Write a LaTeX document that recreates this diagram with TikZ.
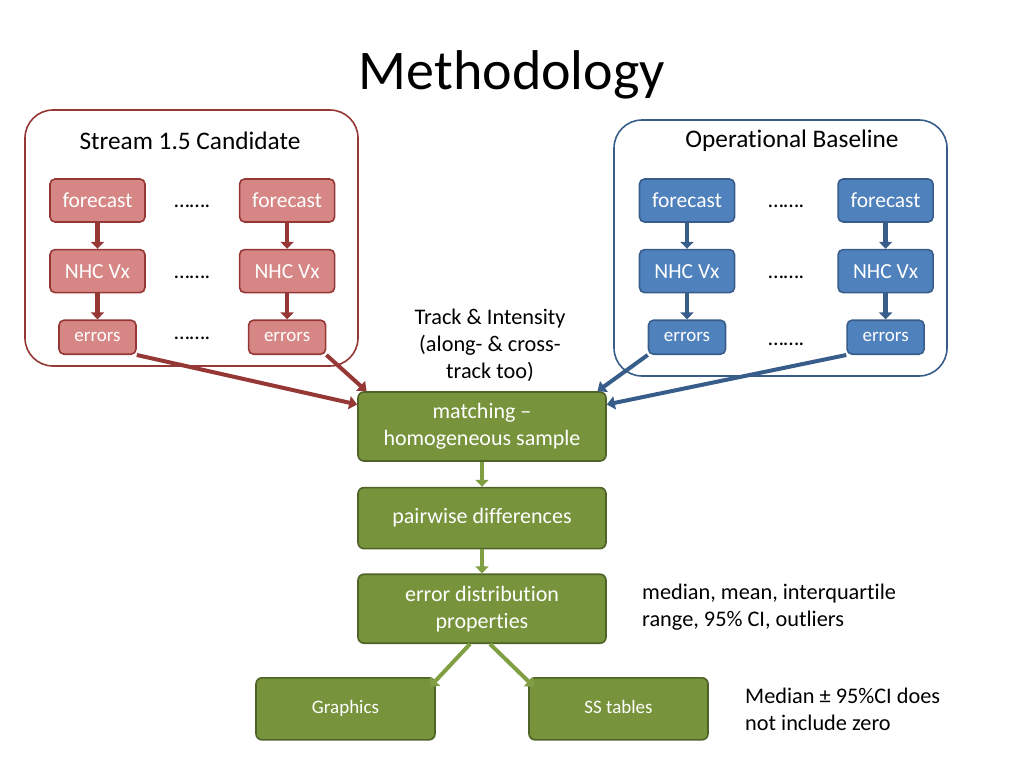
\documentclass[tikz,border=0pt]{standalone}
\usepackage{fontspec}
\setmainfont{Carlito}[Ligatures=NoCommon]
\usepackage{tikz}
\usetikzlibrary{shapes, arrows, arrows.meta, positioning, calc}
\definecolor{candline}{RGB}{149,55,53}
\definecolor{candfill}{RGB}{214,134,132}
\definecolor{opline}{RGB}{56,93,138}
\definecolor{opfill}{RGB}{79,129,189}
\definecolor{greenline}{RGB}{79,98,40}
\definecolor{greenfill}{RGB}{119,147,60}
\definecolor{greenarr}{RGB}{128,158,66}
\tikzstyle{group} = [rectangle, rounded corners=28pt, line width=1.6pt, minimum width=333pt, minimum height=256pt]
\tikzstyle{runbox} = [rectangle, rounded corners=5pt, line width=1.6pt, text=white, minimum width=95pt, minimum height=43pt, inner sep=0pt, font=\fontsize{21.5}{24}\selectfont]
\tikzstyle{errbox} = [runbox, minimum width=77pt, minimum height=34pt, font=\fontsize{19}{22}\selectfont]
\tikzstyle{cand} = [draw=candline, fill=candfill]
\tikzstyle{op} = [draw=opline, fill=opfill]
\tikzstyle{proc} = [rectangle, rounded corners=6pt, line width=1.6pt, draw=greenline, fill=greenfill, text=white, minimum width=248pt, align=center, inner sep=0pt, font=\fontsize{22}{27}\selectfont]
\tikzstyle{outbox} = [proc, minimum width=179pt, minimum height=62pt, text height=13pt, text depth=4pt, font=\fontsize{19}{22}\selectfont]
\tikzstyle{dots} = [anchor=base, inner sep=0pt, font=\fontsize{22}{24}\selectfont]
\tikzstyle{note} = [align=left, anchor=west, inner sep=0pt, font=\fontsize{22.3}{27}\selectfont]
\tikzstyle{candarrow} = [line width=4pt, draw=candline, -{Triangle[length=8pt,width=13pt]}]
\tikzstyle{oparrow} = [line width=4pt, draw=opline, -{Triangle[length=8pt,width=13pt]}]
\tikzstyle{greenarrow} = [line width=4pt, draw=greenarr, -{Triangle[length=8pt,width=13pt]}]
\tikzstyle{short} = [line width=4.5pt, -{Triangle[length=7pt,width=13pt]}]

\begin{document}
\begin{tikzpicture}[x=1pt, y=1pt]
        \useasboundingbox (0,0) rectangle (1024,-768);
        % Title
        \node (title) at (512,-75) {\fontsize{56}{60}\selectfont Methodology};

        % Stream 1.5 Candidate
        \node (candgroup) [group, draw=candline] at (191.5,-238) {};
        \node (candtitle) at (190,-141) {\fontsize{25.3}{28}\selectfont Stream 1.5 Candidate};
        \node (cfc1) [runbox, cand] at (97.5,-200.5) {forecast};
        \node (cnhc1) [runbox, cand, below=26pt of cfc1] {NHC Vx};
        \node (cerr1) [errbox, cand, below=26pt of cnhc1] {errors};
        \node (cfc2) [runbox, cand, right=93pt of cfc1] {forecast};
        \node (cnhc2) [runbox, cand, below=26pt of cfc2] {NHC Vx};
        \node (cerr2) [errbox, cand, below=26pt of cnhc2] {errors};
        \node (cdots1) [dots] at ($(cfc1.base)!0.5!(cfc2.base)$) {…….};
        \node (cdots2) [dots] at ($(cnhc1.base)!0.5!(cnhc2.base)$) {…….};
        \node (cdots3) [dots, yshift=2pt] at ($(cerr1.base)!0.5!(cerr2.base)$) {…….};

        % Operational Baseline
        \node (opgroup) [group, draw=opline] at (780.5,-248) {};
        \node (optitle) at (792,-141) {\fontsize{25.3}{28}\selectfont Operational Baseline};
        \node (ofc1) [runbox, op] at (687,-200.5) {forecast};
        \node (onhc1) [runbox, op, below=26pt of ofc1] {NHC Vx};
        \node (oerr1) [errbox, op, below=26pt of onhc1] {errors};
        \node (ofc2) [runbox, op, right=102pt of ofc1] {forecast};
        \node (onhc2) [runbox, op, below=26pt of ofc2] {NHC Vx};
        \node (oerr2) [errbox, op, below=26pt of onhc2] {errors};
        \node (odots1) [dots] at ($(ofc1.base)!0.5!(ofc2.base)$) {…….};
        \node (odots2) [dots] at ($(onhc1.base)!0.5!(onhc2.base)$) {…….};
        \node (odots3) [dots, yshift=-4pt] at ($(oerr1.base)!0.5!(oerr2.base)$) {…….};

        % Processing chain
        \node (track) [align=center, font=\fontsize{22.3}{27}\selectfont] at (490,-345) {Track \& Intensity\\(along- \& cross-\\track too)};
        \node (match) [proc, minimum height=69pt] at (482,-426.5) {matching –\\homogeneous sample};
        \node (pair) [proc, minimum height=61pt, below=25pt of match] {pairwise differences};
        \node (edist) [proc, minimum height=69pt, below=24pt of pair] {error distribution\\properties};
        \node (graph) [outbox, below=33pt of edist, xshift=-136.5pt] {Graphics};
        \node (sstab) [outbox, below=33pt of edist, xshift=136.5pt] {SS tables};
        \node (stats) [note] at (642,-607.5) {median, mean, interquartile\\range, 95\% CI, outliers};
        \node (signif) [note] at (745,-709.5) {Median ± 95\%CI does\\not include zero};

        % Arrows
        \draw [candarrow, short] (cfc1) -- (cnhc1);
        \draw [candarrow, short] (cnhc1) -- (cerr1);
        \draw [candarrow, short] (cfc2) -- (cnhc2);
        \draw [candarrow, short] (cnhc2) -- (cerr2);
        \draw [oparrow, short] (ofc1) -- (onhc1);
        \draw [oparrow, short] (onhc1) -- (oerr1);
        \draw [oparrow, short] (ofc2) -- (onhc2);
        \draw [oparrow, short] (onhc2) -- (oerr2);

        \draw [candarrow] (cerr1.south east) -- (match.170);
        \draw [candarrow] (cerr2.south east) -- (match.163);
        \draw [oparrow] (oerr1.south west) -- (match.17);
        \draw [oparrow] (oerr2.south west) -- (match.10);

        \draw [greenarrow, short] (match) -- (pair);
        \draw [greenarrow, short] (pair) -- (edist);
        \draw [greenarrow] ([xshift=-12pt]edist.south) -- ([shift={(-6pt,-10pt)}]graph.north east);
        \draw [greenarrow] ([xshift=8pt]edist.south) -- ([shift={(6pt,-10pt)}]sstab.north west);
    \end{tikzpicture}
\end{document}
